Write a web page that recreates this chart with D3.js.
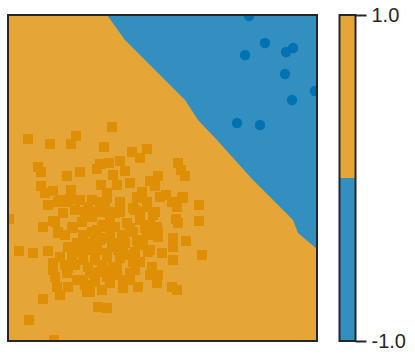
<!DOCTYPE html>
<html>
<head>
<meta charset="utf-8">
<style>
body { margin: 0; background: #fff; }
.cbar text { font-family: "Liberation Sans", Arial, sans-serif; font-size: 20px; fill: #262626; }
</style>
</head>
<body>
<svg width="415" height="360"></svg>
<script src="https://cdn.jsdelivr.net/npm/d3@7"></script>
<script>

// class -1 (blue circles)
var blueX = [241, 257, 237, 278, 285, 277, 307, 284, 229, 252];
var blueY = [324, 297, 285, 288, 292, 266, 249, 240, 217, 215];

// class +1 (orange squares)
var orangeX = [104, 20, 68, 42, 63, 96, 124, 139, 132, 30, 33, 59, 72, 89, 92, 101, 112, 117, 105, 170,
  173, 177, 150, 142, 147, 33, 37, 45, 63, 93, 109, 122, 134, 129, 152, 158, 175, 191, 169, 164,
  40, 52, 62, 72, 80, 92, 99, 55, 1, 45, 35, 50, 65, 74, 84, 94, 107, 127, 139, 145,
  132, 149, 168, 170, 191, 119, 102, 89, 75, 69, 11, 25, 40, 52, 60, 82, 92, 105, 115, 129,
  142, 150, 165, 165, 178, 194, 154, 165, 140, 127, 115, 99, 89, 75, 64, 45, 47, 59, 69, 49,
  60, 52, 35, 79, 87, 92, 105, 99, 94, 115, 115, 122, 127, 130, 144, 142, 150, 149, 164, 169,
  75, 82, 90, 99, 21, 46, 82, 50, 60, 84, 95, 90, 47, 50, 64, 84, 94, 74, 87, 97,
  60, 80, 94, 45, 99, 112, 129, 139, 174, 147, 132, 125, 105, 97, 95, 107, 142, 150, 139, 125,
  114, 102, 142, 130, 117, 104, 99, 112, 125, 109, 97,
  57, 70, 80, 110, 120, 135, 102, 112, 77, 67, 122, 137, 87, 132, 109, 77, 102, 122, 57, 67];
var orangeY = [213, 201, 204, 196, 196, 193, 188, 191, 182, 173, 168, 164, 168, 171, 176, 177, 179, 169, 165, 177,
  170, 164, 164, 159, 154, 154, 147, 149, 150, 155, 155, 157, 148, 143, 143, 145, 143, 135, 133, 138,
  135, 140, 141, 140, 133, 138, 147, 127, 121, 119, 113, 107, 113, 118, 123, 128, 127, 130, 133, 125,
  120, 113, 121, 117, 119, 117, 113, 110, 105, 97, 89, 87, 89, 83, 93, 97, 100, 97, 103, 100,
  105, 103, 102, 93, 99, 85, 87, 80, 88, 88, 93, 87, 90, 80, 83, 77, 63, 67, 60, 53,
  53, 45, 41, 48, 58, 68, 73, 63, 50, 52, 60, 67, 70, 53, 73, 65, 65, 57, 53, 50,
  60, 67, 33, 32, 20, 0, 48, 138, 138, 140, 138, 128, 118, 108, 112, 108, 113, 95, 98, 102,
  72, 73, 75, 70, 142, 138, 142, 138, 142, 128, 128, 132, 128, 132, 115, 113, 115, 108, 105, 108,
  105, 105, 90, 95, 97, 93, 83, 82, 78, 73, 70,
  105, 88, 90, 90, 85, 95, 122, 128, 128, 130, 112, 112, 80, 78, 65, 55, 57, 60, 75, 75];

// decision boundary, from the top edge down to the right edge
var boundaryX = [99, 117, 144, 177, 190, 209, 227, 245, 265, 285, 290, 309];
var boundaryY = [325, 300, 273, 240, 220, 200, 180, 160, 140, 120, 107, 91];

var cbTicks = [-1.0, 1.0];
var cbLevels = [[-1, 0], [0, 1]];

var blueBg = "#348fc1", orangeBg = "#e5a537",
    blueDot = "#0173b2", orangeDot = "#de8f05",
    frame = "#262626";

var svg = d3.select("svg"),
    margin = {top: 15, left: 8},
    width = 309,
    height = 326;

var x = d3.scaleLinear().domain([0, 309]).range([0, width]),
    y = d3.scaleLinear().domain([-1, 325]).range([height, 0]);

svg.append("defs").append("clipPath")
    .attr("id", "clip")
  .append("rect")
    .attr("width", width)
    .attr("height", height);

var plot = svg.append("g")
    .attr("transform", "translate(" + margin.left + "," + margin.top + ")");

var inner = plot.append("g").attr("clip-path", "url(#clip)");

// orange region everywhere, blue region above the boundary
inner.append("rect")
    .attr("width", width)
    .attr("height", height)
    .attr("fill", orangeBg);

var poly = boundaryX.map(function(d, i) { return [d, boundaryY[i]]; });
poly.push([312, 91], [312, 328], [99, 328]);
inner.append("path")
    .datum(poly)
    .attr("fill", blueBg)
    .attr("d", d3.line()
      .x(function(d) { return x(d[0]); })
      .y(function(d) { return y(d[1]); })
      .curve(d3.curveLinearClosed));

inner.selectAll(".sq")
    .data(orangeX)
  .enter().append("rect")
    .attr("class", "sq")
    .attr("x", function(d) { return x(d) - 5; })
    .attr("y", function(d, i) { return y(orangeY[i]) - 5; })
    .attr("width", 10)
    .attr("height", 10)
    .attr("fill", orangeDot);

inner.selectAll(".dot")
    .data(blueX)
  .enter().append("circle")
    .attr("class", "dot")
    .attr("cx", function(d) { return x(d); })
    .attr("cy", function(d, i) { return y(blueY[i]); })
    .attr("r", 5.2)
    .attr("fill", blueDot);

plot.append("rect")
    .attr("width", width)
    .attr("height", height)
    .attr("fill", "none")
    .attr("stroke", frame)
    .attr("stroke-width", 2);

// colorbar
var cb = svg.append("g")
    .attr("class", "cbar")
    .attr("transform", "translate(339.5," + margin.top + ")");

var cy = d3.scaleLinear().domain([-1, 1]).range([height, 0]);

cb.selectAll(".lvl")
    .data(cbLevels)
  .enter().append("rect")
    .attr("class", "lvl")
    .attr("y", function(d) { return cy(d[1]); })
    .attr("width", 16)
    .attr("height", function(d) { return cy(d[0]) - cy(d[1]); })
    .attr("fill", function(d) { return d[0] < 0 ? blueBg : orangeBg; });

cb.append("rect")
    .attr("width", 16)
    .attr("height", height)
    .attr("fill", "none")
    .attr("stroke", frame)
    .attr("stroke-width", 2);

var cbAxis = cb.append("g")
    .attr("transform", "translate(16,0)")
    .call(d3.axisRight(cy).tickValues(cbTicks).tickFormat(d3.format(".1f")).tickSize(11).tickPadding(5));

cbAxis.select(".domain").remove();
cbAxis.selectAll("line").attr("stroke", frame).attr("stroke-width", 2);
cbAxis.selectAll("text")
    .attr("fill", frame)
    .style("font-family", "'Liberation Sans', Arial, sans-serif")
    .style("font-size", "20px")
    .text(function(d) { return d < 0 ? "-" + d3.format(".1f")(-d) : d3.format(".1f")(d); });

</script>
</body>
</html>
